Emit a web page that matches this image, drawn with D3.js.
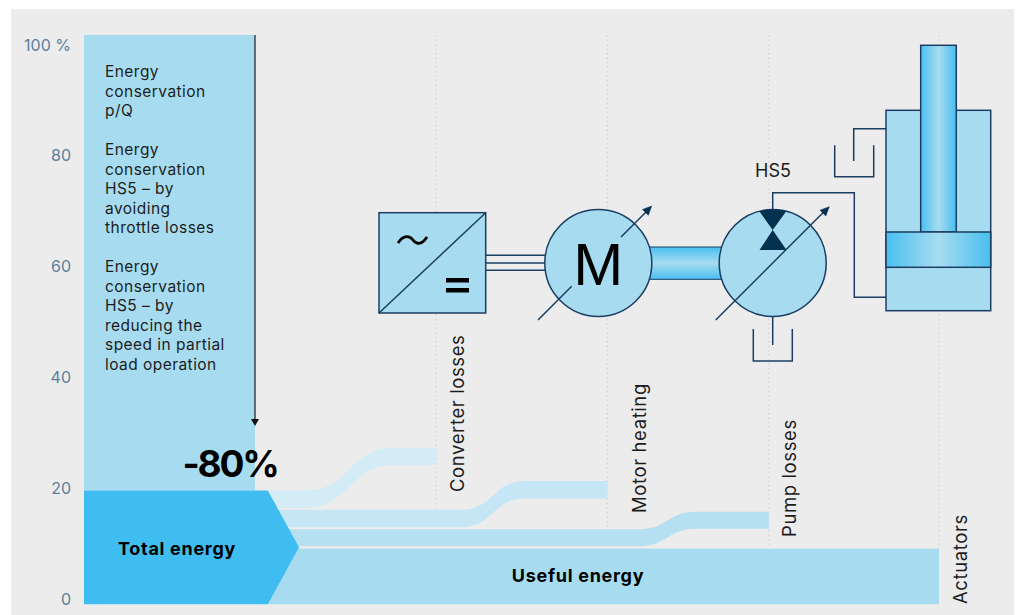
<!DOCTYPE html>
<html><head><meta charset="utf-8">
<script src="https://cdn.jsdelivr.net/npm/d3@7/dist/d3.min.js"></script>
<style>html,body{margin:0;padding:0;background:#fff;overflow:hidden}text{font-family:Inter,sans-serif}</style>
</head><body><svg id="c" width="1018" height="615" style="display:block"></svg>
<script>
const yTicks=[0,20,40,60,80,100];
const stages=[41.2,61.2,80.1,100];
const stageNames=["Converter losses","Motor heating","Pump losses","Actuators"];
const lossNames=["Converter losses","Motor heating","Pump losses"];
const lossStartTop=[20,16.6,13.2];
const lossEndTop=[27.5,21.65,16.25];
const lossThickness=[3.05,3.05,3];
const lossBendStart=[26,44.2,65];
const lossBendEnd=[36.2,51.5,71.5];
const lossColors=["#d4ecf6","#c5e6f4","#b6e0f2"];
const totalEnergy=20, usefulEnergy=9.77, inputEnergy=100;
const blocks=[["Energy","conservation","p/Q"],["Energy","conservation","HS5 – by","avoiding","throttle losses"],["Energy","conservation","HS5 – by","reducing the","speed in partial","load operation"]];

const svg=d3.select("#c");
const x=d3.scaleLinear().domain([0,100]).range([84,939]);
const y=d3.scaleLinear().domain([0,100]).range([604.3,35]);
const tickY=d3.scaleLinear().domain([0,100]).range([599,45]);
const LIGHT="#a7dcf0",BLUE="#3fbdf1",DARK="#1b3d63",NAVY="#02304f";

svg.append("rect").attr("x",11).attr("y",9).attr("width",1003).attr("height",606).attr("fill","#ececec");
const defs=svg.append("defs");
function grad(id,x2,y2){const g=defs.append("linearGradient").attr("id",id).attr("x1",0).attr("y1",0).attr("x2",x2).attr("y2",y2);
 [[0,"#48bfef"],[.5,"#a8dcf0"],[1,"#48bfef"]].forEach(s=>g.append("stop").attr("offset",s[0]).attr("stop-color",s[1]));}
grad("gh",1,0);grad("gv",0,1);
defs.append("clipPath").attr("id","pumpClip").append("circle").attr("cx",772.7).attr("cy",263).attr("r",53.5);

// dotted stage lines
svg.selectAll(".stage").data(stages).join("line").attr("x1",d=>x(d)).attr("x2",d=>x(d))
 .attr("y1",y(inputEnergy)).attr("y2",(d,i)=>i<3?y(usefulEnergy)-2:y(usefulEnergy))
 .attr("stroke","#cfcfcf").attr("stroke-width",1).attr("stroke-dasharray","1.5 3");

// axis labels
const ax=svg.append("g").attr("transform","translate(71,0)").call(d3.axisLeft(tickY).tickValues(yTicks).tickSize(0).tickPadding(0).tickFormat(d=>d===100?"100 %":d));
ax.select(".domain").remove();
ax.selectAll("text").attr("fill","#5b7f9d").attr("font-size",16).style("font-family","Inter,sans-serif");

// input bar
svg.append("rect").attr("x",x(0)).attr("y",y(inputEnergy)).attr("width",x(20)-x(0)).attr("height",y(totalEnergy)-y(inputEnergy)).attr("fill",LIGHT);
// reduction arrow
svg.append("line").attr("x1",x(20)).attr("x2",x(20)).attr("y1",y(inputEnergy)).attr("y2",420).attr("stroke","#1a1a1a").attr("stroke-width",1.2);
svg.append("path").attr("d",`M${x(20)-4} 419L${x(20)+4} 419L${x(20)} 426Z`).attr("fill","#111");

// loss bands
const area=d3.area().x(d=>x(d.x)).y0(d=>y(d.b)).y1(d=>y(d.t)).curve(d3.curveBumpX);
lossNames.forEach((n,i)=>{
 const s=lossStartTop[i],e=lossEndTop[i],h=lossThickness[i];
 const pts=[{x:21.5,t:s,b:s-h},{x:lossBendStart[i],t:s,b:s-h},{x:lossBendEnd[i],t:e,b:e-h},{x:stages[i],t:e,b:e-h}];
 svg.append("path").attr("d",area(pts)).attr("fill",lossColors[i]);
});
// useful energy
svg.append("rect").attr("x",x(21.5)).attr("y",y(usefulEnergy)).attr("width",x(100)-x(21.5)).attr("height",y(0)-y(usefulEnergy)).attr("fill",LIGHT);
// total energy chevron
svg.append("path").attr("d",d3.line().x(d=>x(d[0])).y(d=>y(d[1]))([[0,0],[0,totalEnergy],[21.5,totalEnergy],[25.15,totalEnergy/2],[21.5,0]])+"Z").attr("fill",BLUE);

// texts
const T=(s,px,py,fs,o={})=>svg.append("text").text(s).attr("x",px).attr("y",py).attr("font-size",fs)
 .attr("fill",o.fill||"#1c1c1c").attr("font-weight",o.w||400).attr("text-anchor",o.a||"start")
 .attr("letter-spacing",o.ls||0).attr("transform",o.r?`rotate(-90 ${px} ${py})`:null);
const lh=19.5;let ly=77;
blocks.forEach(b=>{b.forEach(l=>{T(l,105,ly,15.5,{ls:.45});ly+=lh;});ly+=lh;});
T("-80%",230,477,37,{w:700,a:"middle",fill:"#000",ls:-2.2});
T("Total energy",177,555,18,{w:700,a:"middle",fill:"#000",ls:.7});
T("Useful energy",578,582,18,{w:700,a:"middle",fill:"#000",ls:.7});
const labelX=[464,646,796,967],labelY=[492,513,537,604];
stageNames.forEach((n,i)=>T(n,labelX[i],labelY[i],18.5,{r:1,ls:.6}));
T("HS5",773,177,18,{a:"middle"});

// schematic
const S=o=>Object.assign({fill:"none",stroke:DARK,"stroke-width":1.5},o);
const el=(t,o)=>{const e=svg.append(t);Object.entries(S(o)).forEach(([k,v])=>e.attr(k,v));return e;};
el("path",{d:"M772.7 210V192.7H854.3V297.3H886"});
el("path",{d:"M772.7 316V345"});
el("path",{d:"M753.3 329V361H792.3V329"});
el("path",{d:"M886 128.7H853.7V161"});
el("path",{d:"M834.7 145.3V176.7H873.7V145.3"});
// inverter
el("path",{d:"M486 255.3H546M486 263H546M486 270.3H546"});
el("rect",{x:379,y:212.7,width:106.7,height:100.3,fill:LIGHT});
el("path",{d:"M379 313L485.7 212.7"});
el("path",{d:"M398 243C404 234 410 236 413 240S421 246 427 237",stroke:"#000","stroke-width":2.8});
el("rect",{x:446,y:278,width:23,height:4.5,fill:"#000",stroke:"none"});
el("rect",{x:446,y:288,width:23,height:4.5,fill:"#000",stroke:"none"});
// shaft
el("rect",{x:645,y:247,width:80,height:32.3,fill:"url(#gv)","stroke-width":1});
// motor
el("circle",{cx:598.3,cy:263,r:53.5,fill:LIGHT});
svg.append("text").text("M").attr("x",598.3).attr("y",285).attr("text-anchor","middle").attr("font-size",60).attr("fill","#000").style("font-family",'"Liberation Sans",sans-serif');
el("path",{d:"M538 320L571.7 286.3M621 237L647 211"});
el("path",{d:"M651.7 206L642.5 209.5L648.3 215.3Z",fill:NAVY,stroke:NAVY,"stroke-width":.5});
// pump
el("circle",{cx:772.7,cy:263,r:53.5,fill:LIGHT});
svg.append("g").attr("clip-path","url(#pumpClip)").append("path").attr("d","M758 209.5H787.5L772.7 230L786.5 250H759.5L772.7 230Z").attr("fill",NAVY);
el("path",{d:"M715.7 320L825 210.7"});
el("path",{d:"M829.3 206.7L820 210.2L825.8 216Z",fill:NAVY,stroke:NAVY,"stroke-width":.5});
// cylinder
el("rect",{x:886,y:110.3,width:104.7,height:200.4,fill:LIGHT});
el("rect",{x:920.7,y:45.3,width:35.6,height:186.7,fill:"url(#gh)"});
el("rect",{x:886,y:232,width:104.7,height:35.3,fill:"url(#gh)"});
</script></body></html>
